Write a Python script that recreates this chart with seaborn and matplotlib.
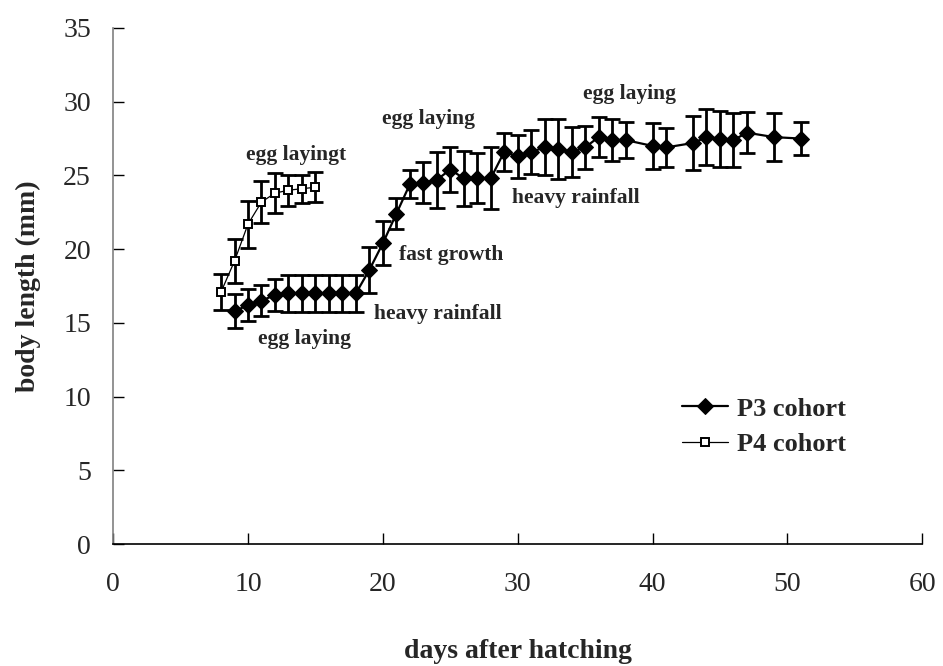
import matplotlib
matplotlib.use("Agg")
import matplotlib.pyplot as plt
import seaborn as sns
import pandas as pd
import numpy as np

# ---- data ----
p3_days = [9, 10, 11, 12, 13, 14, 15, 16, 17, 18, 19, 20, 21, 22, 23, 24, 25, 26, 27, 28,
           29, 30, 31, 32, 33, 34, 35, 36, 37, 38, 40, 41, 43, 44, 45, 46, 47, 49, 51]
p3_length = [15.8, 16.2, 16.5, 16.9, 17.0, 17.0, 17.0, 17.0, 17.0, 17.0, 18.6, 20.4, 22.4, 24.4, 24.5,
             24.7, 25.4, 24.8, 24.8, 24.8, 26.6, 26.3, 26.6, 26.9, 26.8, 26.6, 26.9, 27.6, 27.4, 27.4,
             27.0, 26.9, 27.2, 27.6, 27.5, 27.4, 27.9, 27.6, 27.5]
p3_err = [1.15, 1.1, 1.05, 1.1, 1.25, 1.25, 1.25, 1.25, 1.25, 1.25, 1.55, 1.5, 1.05, 0.95, 1.4,
          1.9, 1.55, 1.85, 1.7, 2.1, 1.3, 1.45, 1.5, 1.9, 2.05, 1.7, 1.45, 1.35, 1.4, 1.2,
          1.55, 1.35, 1.8, 1.9, 1.9, 1.85, 1.4, 1.65, 1.1]

p4_days = [8, 9, 10, 11, 12, 13, 14, 15]
p4_length = [17.1, 19.2, 21.7, 23.2, 23.8, 24.0, 24.1, 24.2]
p4_err = [1.2, 1.5, 1.6, 1.45, 1.35, 1.05, 0.95, 1.0]

x_ticks = [0, 10, 20, 30, 40, 50, 60]
y_ticks = [0, 5, 10, 15, 20, 25, 30, 35]

annotations = [
    ("egg layingt", 13.6, 26.4),
    ("egg laying", 14.2, 13.9),
    ("egg laying", 23.4, 28.8),
    ("fast growth", 25.1, 19.6),
    ("heavy rainfall", 24.1, 15.6),
    ("heavy rainfall", 34.3, 23.5),
    ("egg laying", 38.3, 30.5),
]

# ---- style ----
sns.set_style("white")
plt.rcParams["font.family"] = ["Liberation Serif", "DejaVu Serif"]

fig = plt.figure(figsize=(9.43, 6.66), dpi=100)
ax = fig.add_axes([0.12, 0.183, 0.858, 0.775])

df3 = pd.DataFrame({"day": p3_days, "length": p3_length})
df4 = pd.DataFrame({"day": p4_days, "length": p4_length})

# error bars
ax.errorbar(p3_days, p3_length, yerr=p3_err, fmt="none", ecolor="black",
            elinewidth=2.0, capsize=6, capthick=2.0, zorder=2)
ax.errorbar(p4_days, p4_length, yerr=p4_err, fmt="none", ecolor="black",
            elinewidth=2.0, capsize=6, capthick=2.0, zorder=2)

sns.lineplot(data=df3, x="day", y="length", ax=ax, color="black", linewidth=1.6,
             marker="D", markersize=8.5, markerfacecolor="black", markeredgecolor="black",
             label="P3 cohort", zorder=3)
sns.lineplot(data=df4, x="day", y="length", ax=ax, color="black", linewidth=0.9,
             marker="s", markersize=6, markerfacecolor="white", markeredgecolor="black",
             markeredgewidth=1.4, label="P4 cohort", zorder=4)

for txt, x, y in annotations:
    ax.text(x, y, txt, ha="center", va="center", fontsize=15.5, fontweight="bold")

ax.set_xlim(0, 60)
ax.set_ylim(0, 35)
ax.set_xticks(x_ticks)
ax.set_yticks(y_ticks)
ax.tick_params(axis="both", direction="in", length=8, width=1, labelsize=20,
               color="black", bottom=True, left=True)
ax.tick_params(axis="x", pad=20)
ax.tick_params(axis="y", pad=16)

for s in ["top", "right"]:
    ax.spines[s].set_visible(False)
ax.spines["left"].set_color("#808080")
ax.spines["left"].set_linewidth(1.2)
ax.spines["bottom"].set_color("black")
ax.spines["bottom"].set_linewidth(1.2)

ax.set_xlabel("days after hatching", fontsize=20, fontweight="bold", labelpad=30)
ax.set_ylabel("body length (mm)", fontsize=20, fontweight="bold", labelpad=16)

leg = ax.legend(loc="center left", bbox_to_anchor=(0.703, 0.228), frameon=False,
                prop={"size": 19, "weight": "bold"}, handlelength=1.75, labelspacing=0.45,
                handletextpad=0.35, borderpad=0, borderaxespad=0)

fig.savefig("out.png", dpi=100)
